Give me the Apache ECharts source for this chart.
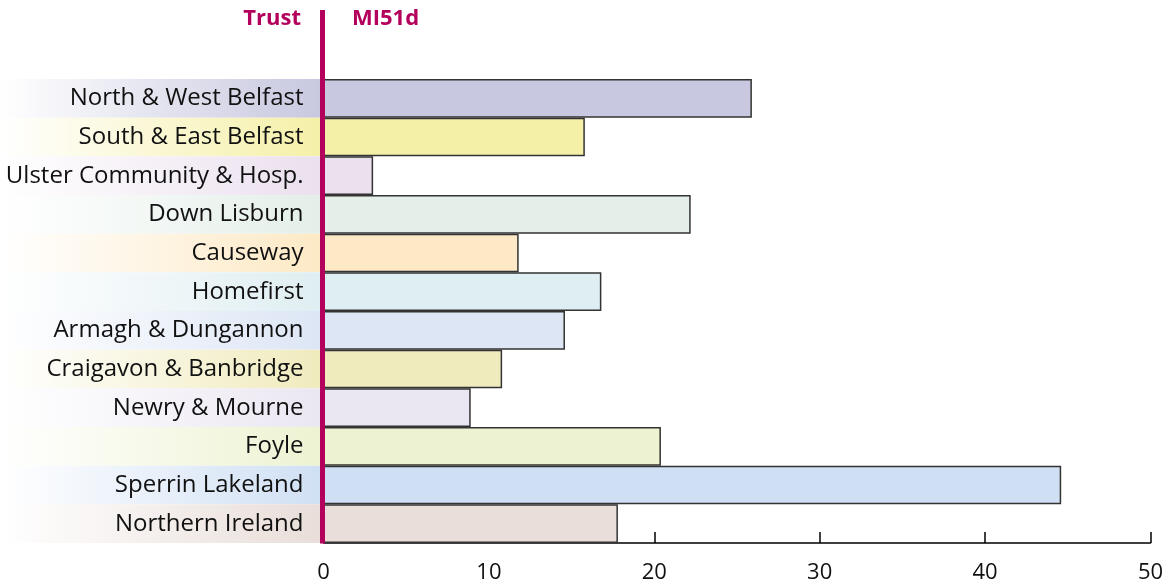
<!DOCTYPE html>
<html>
<head>
<meta charset="utf-8">
<script src="https://cdn.jsdelivr.net/npm/echarts@6/dist/echarts.min.js"></script>
<style>
html,body{margin:0;padding:0;background:#fff;}
#chart{width:1168px;height:586px;}
</style>
</head>
<body>
<div id="chart"></div>
<script>
var categories = ["North & West Belfast","South & East Belfast","Ulster Community & Hosp.","Down Lisburn","Causeway","Homefirst","Armagh & Dungannon","Craigavon & Banbridge","Newry & Mourne","Foyle","Sperrin Lakeland","Northern Ireland"];
var values = [25.9, 15.8, 3.0, 22.2, 11.8, 16.8, 14.6, 10.8, 8.9, 20.4, 44.6, 17.8];
var colors = ["#c8c8e0","#f5f0a8","#ebe0ee","#e4efe9","#fde9c5","#dfeef2","#dde6f5","#f0ebbd","#ebe7f2","#edf3d2","#d0e0f4","#e9ded9"];
var xTicks = [0, 10, 20, 30, 40, 50];
var FONT = "Open Sans";
var MAGENTA = "#b3005c";

var chart = echarts.init(document.getElementById('chart'));
var bgData = categories.map(function(c,i){
  return {value:1, itemStyle:{color:new echarts.graphic.LinearGradient(0,0,1,0,[{offset:0,color:'#ffffff'},{offset:1,color:colors[i]}])}};
});
var barData = values.map(function(v,i){ return {value:v, itemStyle:{color:colors[i]}}; });

chart.setOption({
  animation:false,
  backgroundColor:'#fff',
  title:[
    {text:'Trust', right:1168-301, top:8, textStyle:{fontFamily:FONT,fontWeight:'bold',fontSize:22,color:MAGENTA}, padding:0},
    {text:'MI51d', left:352, top:8, textStyle:{fontFamily:FONT,fontWeight:'bold',fontSize:22,color:MAGENTA}, padding:0}
  ],
  grid:[
    {left:323.5, right:17.5, top:79, bottom:43},
    {left:0, width:320, top:79, bottom:43}
  ],
  xAxis:[
    {gridIndex:0, type:'value', min:xTicks[0], max:xTicks[xTicks.length-1], interval:10,
     axisLine:{show:true,lineStyle:{color:'#000',width:1.5}},
     axisTick:{show:true,inside:true,length:11,lineStyle:{color:'#000',width:1.5}},
     axisLabel:{fontFamily:FONT,fontSize:22,color:'#111',margin:19},
     splitLine:{show:false}},
    {gridIndex:1, type:'value', min:0, max:1, show:false}
  ],
  yAxis:[
    {gridIndex:0, type:'category', data:categories, inverse:true, z:10,
     axisLine:{show:false}, axisTick:{show:false},
     axisLabel:{fontFamily:FONT,fontSize:24,color:'#111',margin:20}},
    {gridIndex:1, type:'category', data:categories, inverse:true, show:false}
  ],
  series:[
    {type:'bar', xAxisIndex:1, yAxisIndex:1, data:bgData, barCategoryGap:'0%', silent:true, z:1},
    {type:'bar', xAxisIndex:0, yAxisIndex:0, data:barData, barCategoryGap:'0%', z:3,
     itemStyle:{borderColor:'#333',borderWidth:1.5}}
  ],
  graphic:[
    {type:'rect', shape:{x:320, y:10, width:5, height:533.5}, style:{fill:MAGENTA}, z:100}
  ]
});
</script>
</body>
</html>
